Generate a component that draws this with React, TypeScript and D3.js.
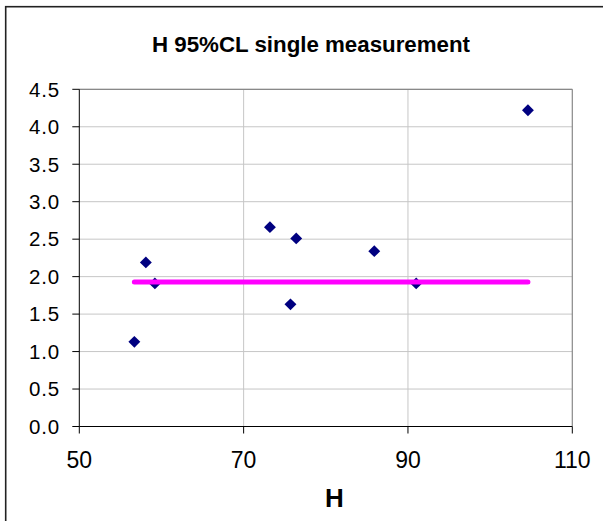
import React from 'react';
import * as d3 from 'd3';

// measured H values and their 95% CL
const hValues = [56.7, 58.1, 59.2, 73.2, 75.7, 76.4, 85.9, 91.0, 104.6];
const clValues = [1.13, 2.19, 1.91, 2.66, 1.63, 2.51, 2.34, 1.91, 4.22];
// horizontal reference level drawn across the data range
const refLevel = [1.93];
const xTicks = [50, 70, 90, 110];
const yTicks = [0, 0.5, 1, 1.5, 2, 2.5, 3, 3.5, 4, 4.5];

const W = 603;
const H = 521;
const plot = { left: 79.3, right: 572.3, top: 89.3, bottom: 426.5 };

const App: React.FC = () => {
  const x = d3.scaleLinear().domain([50, 110]).range([plot.left, plot.right]);
  const y = d3.scaleLinear().domain([0, 4.5]).range([plot.bottom, plot.top]);

  const diamond = d3.symbol().type(d3.symbolDiamond2).size(90)();
  const [xMin, xMax] = d3.extent(hValues) as [number, number];
  const font = 'Arial, "Liberation Sans", sans-serif';

  return (
    <div style={{ position: 'fixed', left: 0, top: 0 }}>
      <svg width={W} height={H} style={{ display: 'block', background: '#fff' }}>
        {/* chart frame (extends past the window edges) */}
        <rect x={5.7} y={6.7} width={W + 20} height={H + 20} fill="#fff" stroke="#222" strokeWidth={1.6} />

        <text x={311} y={52} textAnchor="middle" fontFamily={font} fontWeight="bold" fontSize={22}
          textLength={318} lengthAdjust="spacingAndGlyphs">
          H 95%CL single measurement
        </text>

        {/* gridlines */}
        {yTicks.slice(1).map(t => (
          <line key={'gy' + t} x1={plot.left} x2={plot.right} y1={y(t)} y2={y(t)} stroke="#c6c6c6" strokeWidth={1} />
        ))}
        {xTicks.slice(1, -1).map(t => (
          <line key={'gx' + t} x1={x(t)} x2={x(t)} y1={plot.top} y2={plot.bottom} stroke="#c6c6c6" strokeWidth={1} />
        ))}

        {/* plot border top/right */}
        <line x1={plot.left} x2={plot.right} y1={plot.top} y2={plot.top} stroke="#888" strokeWidth={1.2} />
        <line x1={plot.right} x2={plot.right} y1={plot.top} y2={plot.bottom} stroke="#888" strokeWidth={1.2} />

        {/* axes */}
        <line x1={plot.left} x2={plot.left} y1={plot.top} y2={plot.bottom} stroke="#000" strokeWidth={1} />
        <line x1={plot.left} x2={plot.right} y1={plot.bottom} y2={plot.bottom} stroke="#000" strokeWidth={1} />

        {yTicks.map(t => (
          <g key={'yt' + t}>
            <line x1={plot.left - 7} x2={plot.left} y1={y(t)} y2={y(t)} stroke="#000" />
            <text x={60} y={y(t) + 7.3} textAnchor="end" fontFamily={font} fontSize={20.5} letterSpacing={0.8}>
              {d3.format('.1f')(t)}
            </text>
          </g>
        ))}
        {xTicks.map(t => (
          <g key={'xt' + t}>
            <line x1={x(t)} x2={x(t)} y1={plot.bottom} y2={plot.bottom + 7} stroke="#000" />
            <text x={x(t)} y={467.7} textAnchor="middle" fontFamily={font} fontSize={23}>
              {t}
            </text>
          </g>
        ))}

        <text x={334.3} y={506.7} textAnchor="middle" fontFamily={font} fontWeight="bold" fontSize={26}>
          H
        </text>

        {/* data points */}
        {hValues.map((h, i) => (
          <path key={'p' + i} d={diamond!} transform={`translate(${x(h)},${y(clValues[i])})`} fill="#000080" />
        ))}

        {/* reference line */}
        <line
          x1={x(xMin)}
          x2={x(xMax)}
          y1={y(refLevel[0])}
          y2={y(refLevel[0])}
          stroke="#ff00ff"
          strokeWidth={5}
          strokeLinecap="round"
        />
      </svg>
    </div>
  );
};

export default App;
